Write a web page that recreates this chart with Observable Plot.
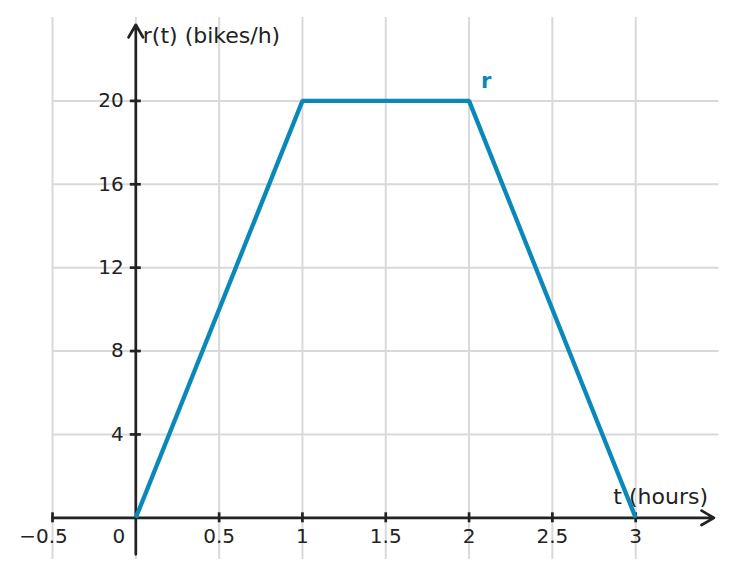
<!DOCTYPE html>
<html>
<head>
<meta charset="utf-8">
<script src="https://cdn.jsdelivr.net/npm/d3@7"></script>
<script src="https://cdn.jsdelivr.net/npm/@observablehq/plot@0.6"></script>
<style>
  html, body { margin: 0; padding: 0; background: white; }
</style>
</head>
<body>
<div id="chart"></div>
<script>
// Data
const tValues = [0, 1, 2, 3];
const rValues = [0, 20, 20, 0];
const xTicks = [-0.5, 0.5, 1, 1.5, 2, 2.5, 3];
const xTickLabels = ["−0.5", "0.5", "1", "1.5", "2", "2.5", "3"];
const xGrid = [-0.5, 0, 0.5, 1, 1.5, 2, 2.5, 3];
const yTicks = [4, 8, 12, 16, 20];
const yTickLabels = ["4", "8", "12", "16", "20"];
const xDomain = [-0.5, 3.5];
const yDomain = [-2, 24];
const xAxisEnd = 3.47;
const yAxisStart = -1.75;
const yAxisEnd = 23.65;
const xLabel = "t (hours)";
const yLabel = "r(t) (bikes/h)";
const seriesName = "r";

const points = tValues.map((t, i) => ({t, r: rValues[i]}));
const xTickData = xTicks.map((x, i) => ({x, label: xTickLabels[i]}));
const ink = "#222222";
const grid = "#d9d9d9";
const blue = "#0a88b9";

const chart = Plot.plot({
  width: 737,
  height: 578,
  marginLeft: 52,
  marginRight: 18.5,
  marginTop: 17,
  marginBottom: 19,
  x: {domain: xDomain, axis: null},
  y: {domain: yDomain, axis: null},
  style: {fontFamily: "DejaVu Sans", fontSize: "20px", background: "white"},
  marks: [
    // grid
    Plot.ruleX(xGrid, {x: d => d, y1: yDomain[0], y2: yDomain[1], stroke: grid, strokeWidth: 2}),
    Plot.ruleY(yTicks, {y: d => d, x1: xDomain[0], x2: xDomain[1], stroke: grid, strokeWidth: 2}),
    // axes with arrows
    Plot.arrow([0], {x1: xDomain[0], y1: 0, x2: xAxisEnd, y2: 0, stroke: ink, strokeWidth: 2.7, headLength: 8, headAngle: 60}),
    Plot.arrow([0], {x1: 0, y1: yAxisStart, x2: 0, y2: yAxisEnd, stroke: ink, strokeWidth: 2.7, headLength: 8, headAngle: 60}),
    // tick marks
    Plot.ruleX(xTicks, {x: d => d, y1: 0, y2: 0, insetTop: -5, insetBottom: -5, stroke: ink, strokeWidth: 2.7}),
    Plot.ruleY(yTicks, {y: d => d, x1: 0, x2: 0, insetLeft: -5.5, insetRight: -5.5, stroke: ink, strokeWidth: 2.7}),
    // tick labels
    Plot.text(xTickData.filter(d => d.x > 0), {x: "x", y: 0, text: "label", dy: 19, fill: ink, fontSize: 20}),
    Plot.text(xTickData.filter(d => d.x < 0), {x: "x", y: 0, text: "label", dx: -9, dy: 19, fill: ink, fontSize: 20}),
    Plot.text([0], {x: 0, y: 0, text: ["0"], dx: -17, dy: 19, fill: ink, fontSize: 20}),
    Plot.text(yTicks, {x: 0, y: d => d, text: (d, i) => yTickLabels[i], dx: -12, textAnchor: "end", fill: ink, fontSize: 20}),
    // axis titles
    Plot.text([yLabel], {x: 0, y: yAxisEnd, text: d => d, textAnchor: "start", dx: 7, dy: 11, fill: ink, fontSize: 22}),
    Plot.text([xLabel], {x: xAxisEnd, y: 0, text: d => d, textAnchor: "end", dx: -6, dy: -21, fill: ink, fontSize: 22}),
    // series
    Plot.line(points, {x: "t", y: "r", stroke: blue, strokeWidth: 4.3, strokeLinejoin: "miter", strokeLinecap: "butt"}),
    Plot.text([points[2]], {x: "t", y: "r", text: () => seriesName, dx: 17, dy: -20, fill: blue, fontWeight: "bold", fontSize: 21})
  ]
});
document.getElementById("chart").append(chart);
</script>
</body>
</html>
